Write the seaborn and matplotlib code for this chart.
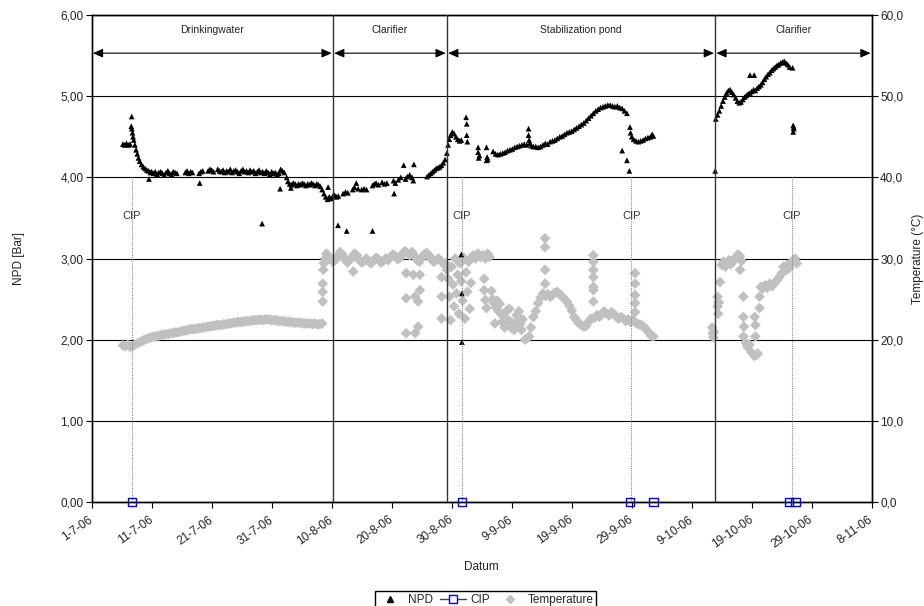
import pandas as pd
import seaborn as sns
import matplotlib.pyplot as plt
from matplotlib.lines import Line2D
from matplotlib.ticker import FuncFormatter, MultipleLocator

# days counted from 1-7-06
start = pd.Timestamp('2006-07-01')
end = pd.Timestamp('2006-11-08')

# NPD [Bar] as (day, value)
npd_drinking = [
    (5.2, 4.41), (5.5, 4.40), (5.8, 4.42), (6.1, 4.40), (6.4, 4.41), (6.6, 4.63), (6.67, 4.75),
    (6.7, 4.60), (6.8, 4.55), (6.9, 4.50), (7.0, 4.46), (7.2, 4.40), (7.4, 4.34), (7.6, 4.29),
    (7.8, 4.24), (8.0, 4.20), (8.3, 4.16), (8.6, 4.13), (8.9, 4.11), (9.2, 4.09), (9.5, 4.08),
    (9.55, 3.98), (9.8, 4.06), (10.0, 4.07), (10.3, 4.05), (10.6, 4.07), (10.9, 4.04), (11.2, 4.06),
    (11.5, 4.07), (11.8, 4.05), (12.1, 4.03), (12.4, 4.06), (12.7, 4.08), (13.0, 4.05), (13.3, 4.04),
    (13.6, 4.07), (13.9, 4.06), (14.2, 4.05), (15.6, 4.06), (15.9, 4.08), (16.2, 4.05), (16.5, 4.07),
    (16.8, 4.06), (17.9, 4.05), (18.0, 3.93), (18.2, 4.07), (18.5, 4.08), (19.4, 4.08), (19.7, 4.10),
    (20.0, 4.09), (20.3, 4.07), (21.0, 4.10), (21.3, 4.08), (21.6, 4.07), (21.9, 4.09), (22.2, 4.06),
    (22.5, 4.08), (22.8, 4.07), (23.1, 4.10), (23.4, 4.06), (23.7, 4.08), (24.0, 4.09), (24.3, 4.07),
    (24.6, 4.05), (24.9, 4.08), (25.2, 4.10), (25.5, 4.07), (25.8, 4.08), (26.1, 4.06), (26.4, 4.09),
    (26.7, 4.07), (27.0, 4.08), (27.3, 4.05), (27.6, 4.07), (27.9, 4.09), (28.2, 4.06), (28.4, 3.43),
    (28.5, 4.07), (28.8, 4.05), (29.1, 4.08), (29.4, 4.06), (29.7, 4.04), (30.0, 4.07), (30.3, 4.05),
    (30.6, 4.06), (30.9, 4.04), (31.2, 4.05), (31.4, 3.86), (31.5, 4.10), (31.8, 4.08), (32.1, 4.06),
    (32.5, 4.00), (32.7, 3.95), (33.0, 3.92), (33.2, 3.87), (33.3, 3.91), (33.6, 3.93), (33.9, 3.92),
    (34.2, 3.90), (34.5, 3.92), (34.8, 3.91), (35.1, 3.93), (35.4, 3.92), (35.7, 3.90), (36.0, 3.92),
    (36.3, 3.91), (36.6, 3.93), (36.9, 3.92), (37.2, 3.90), (37.5, 3.92), (37.8, 3.91), (38.1, 3.89),
    (38.4, 3.85), (38.7, 3.80), (39.0, 3.76), (39.3, 3.73), (39.4, 3.88), (39.6, 3.76), (39.9, 3.74),
    (40.2, 3.77),
]
npd_clarifier1 = [
    (40.5, 3.78), (40.8, 3.76), (41.05, 3.41), (41.1, 3.77), (41.9, 3.80), (42.3, 3.82), (42.5, 3.34),
    (42.7, 3.81), (43.5, 3.85), (43.8, 3.88), (44.1, 3.93), (44.4, 3.86), (45.0, 3.85), (45.4, 3.86),
    (45.8, 3.85), (46.8, 3.90), (46.8, 3.34), (47.1, 3.92), (47.4, 3.93), (47.8, 3.91), (48.4, 3.94),
    (48.8, 3.92), (49.2, 3.93), (50.3, 3.96), (50.4, 3.80), (50.6, 3.93), (51.1, 3.97), (51.5, 4.00),
    (52.0, 4.15), (52.3, 3.98), (52.6, 4.01), (53.0, 4.03), (53.4, 4.00), (53.6, 3.96), (53.7, 4.16),
    (55.9, 4.01), (56.2, 4.03), (56.5, 4.05), (56.8, 4.07), (57.1, 4.09), (57.4, 4.11), (57.7, 4.12),
    (58.0, 4.13), (58.3, 4.15), (58.6, 4.18), (58.9, 4.22),
]
npd_pond = [
    (59.2, 4.30), (59.4, 4.40), (59.6, 4.47), (59.8, 4.52), (60.1, 4.56), (60.4, 4.54), (60.7, 4.50),
    (61.0, 4.47), (61.3, 4.45), (61.6, 4.46), (61.6, 3.05), (61.7, 2.57), (61.7, 1.97), (62.4, 4.74),
    (62.5, 4.66), (62.5, 4.52), (62.6, 4.44), (64.4, 4.37), (64.4, 4.31), (64.5, 4.24), (64.6, 4.27),
    (65.8, 4.37), (65.8, 4.21), (65.9, 4.25), (66.0, 4.22), (66.9, 4.32), (67.3, 4.29), (67.7, 4.28),
    (68.1, 4.29), (68.5, 4.30), (68.9, 4.31), (69.3, 4.33), (69.7, 4.34), (70.1, 4.35), (70.5, 4.37),
    (70.9, 4.38), (71.3, 4.39), (71.7, 4.40), (72.1, 4.41), (72.5, 4.40), (72.8, 4.60), (72.8, 4.52),
    (72.9, 4.46), (73.0, 4.42), (73.3, 4.39), (73.6, 4.38), (74.0, 4.38), (74.4, 4.37), (74.8, 4.38),
    (75.2, 4.40), (75.6, 4.42), (76.0, 4.41), (76.4, 4.44), (76.8, 4.45), (77.2, 4.46), (77.6, 4.48),
    (78.0, 4.50), (78.4, 4.51), (78.8, 4.53), (79.2, 4.55), (79.6, 4.56), (80.0, 4.57), (80.4, 4.59),
    (80.8, 4.61), (81.2, 4.63), (81.6, 4.65), (82.0, 4.67), (82.4, 4.70), (82.8, 4.73), (83.2, 4.76),
    (83.6, 4.79), (84.0, 4.82), (84.4, 4.84), (84.8, 4.86), (85.2, 4.87), (85.6, 4.88), (86.0, 4.89),
    (86.4, 4.89), (86.8, 4.88), (87.2, 4.87), (87.6, 4.88), (88.0, 4.86), (88.4, 4.85), (88.4, 4.33),
    (88.8, 4.82), (89.2, 4.79), (89.2, 4.21), (89.6, 4.08), (89.7, 4.62), (89.8, 4.55), (90.0, 4.50),
    (90.3, 4.47), (90.7, 4.45), (91.1, 4.44), (91.5, 4.45), (91.9, 4.46), (92.3, 4.48), (92.7, 4.49),
    (93.1, 4.50), (93.4, 4.53), (93.6, 4.51),
]
npd_clarifier2 = [
    (103.9, 4.08), (104.0, 4.72), (104.3, 4.77), (104.6, 4.82), (104.9, 4.88), (105.2, 4.94),
    (105.5, 4.99), (105.8, 5.04), (106.1, 5.07), (106.4, 5.08), (106.7, 5.05), (107.0, 5.02),
    (107.3, 4.98), (107.6, 4.94), (107.9, 4.92), (108.2, 4.93), (108.5, 4.96), (108.8, 4.99),
    (109.1, 5.01), (109.4, 5.03), (109.7, 5.04), (109.7, 5.26), (110.0, 5.06), (110.3, 5.08),
    (110.4, 5.26), (110.6, 5.07), (110.9, 5.10), (111.2, 5.12), (111.5, 5.14), (111.8, 5.17),
    (112.1, 5.21), (112.4, 5.24), (112.7, 5.27), (113.0, 5.29), (113.3, 5.32), (113.6, 5.34),
    (113.9, 5.36), (114.2, 5.38), (114.5, 5.39), (114.8, 5.41), (115.1, 5.42), (115.4, 5.43),
    (115.7, 5.41), (116.0, 5.39), (116.3, 5.36), (116.8, 5.35), (116.9, 4.64), (117.0, 4.60),
    (116.9, 4.56), (117.0, 4.62),
]

# Temperature (°C) as (day, value)
temp_drinking = [
    (5.2, 19.3), (5.6, 19.2), (6.0, 19.4), (6.4, 19.1), (6.8, 19.2), (7.2, 19.4), (7.6, 19.5),
    (8.0, 19.7), (8.4, 19.8), (8.8, 20.0), (9.2, 20.1), (9.6, 20.2), (10.0, 20.3), (10.4, 20.4),
    (10.8, 20.4), (11.2, 20.5), (11.6, 20.6), (12.0, 20.6), (12.4, 20.7), (12.8, 20.7), (13.2, 20.8),
    (13.6, 20.8), (14.0, 20.9), (14.4, 20.9), (14.8, 21.0), (15.2, 21.1), (15.6, 21.1), (16.0, 21.2),
    (16.4, 21.3), (16.8, 21.3), (17.2, 21.3), (17.6, 21.4), (18.0, 21.4), (18.4, 21.5), (18.8, 21.5),
    (19.2, 21.6), (19.6, 21.6), (20.0, 21.7), (20.4, 21.7), (20.8, 21.8), (21.2, 21.8), (21.6, 21.8),
    (22.0, 21.9), (22.4, 21.9), (22.8, 22.0), (23.2, 22.0), (23.6, 22.1), (24.0, 22.1), (24.4, 22.2),
    (24.8, 22.2), (25.2, 22.2), (25.6, 22.3), (26.0, 22.3), (26.4, 22.3), (26.8, 22.4), (27.2, 22.4),
    (27.6, 22.4), (28.0, 22.5), (28.4, 22.4), (28.8, 22.5), (29.2, 22.5), (29.6, 22.5), (30.0, 22.4),
    (30.4, 22.4), (30.8, 22.4), (31.2, 22.3), (31.6, 22.3), (32.0, 22.3), (32.4, 22.2), (32.8, 22.2),
    (33.2, 22.2), (33.6, 22.1), (34.0, 22.1), (34.4, 22.1), (34.8, 22.1), (35.2, 22.0), (35.6, 22.0),
    (36.0, 22.0), (36.4, 22.0), (36.8, 21.9), (37.2, 22.0), (37.6, 21.9), (38.0, 21.9), (38.4, 22.0),
    (38.5, 24.7), (38.5, 25.9), (38.5, 26.9), (38.6, 28.6), (38.7, 29.4), (38.9, 30.0), (39.1, 30.6),
]
temp_clarifier1 = [
    (39.4, 30.4), (39.8, 30.0), (40.2, 29.6), (40.6, 29.8), (41.0, 30.3), (41.4, 30.8), (41.8, 30.5),
    (42.2, 29.9), (42.6, 29.5), (43.0, 29.8), (43.4, 30.2), (43.6, 28.4), (43.8, 30.6), (44.2, 30.4),
    (44.6, 29.8), (45.0, 29.5), (45.4, 29.7), (45.8, 30.0), (46.2, 29.6), (46.6, 29.4), (47.0, 29.8),
    (47.4, 30.1), (47.8, 29.9), (48.2, 29.5), (48.6, 29.7), (49.0, 30.0), (49.4, 29.8), (49.8, 30.2),
    (50.2, 30.5), (50.6, 30.3), (51.0, 29.9), (51.4, 30.1), (51.8, 30.6), (52.2, 30.9), (52.4, 28.2),
    (52.4, 25.1), (52.4, 20.8), (52.6, 30.7), (53.0, 30.4), (53.4, 30.8), (53.6, 28.0), (53.8, 30.3),
    (53.9, 25.3), (53.9, 20.8), (54.2, 29.8), (54.4, 24.7), (54.4, 21.6), (54.6, 29.6), (54.7, 28.0),
    (54.7, 26.1), (55.0, 30.1), (55.4, 30.5), (55.8, 30.7), (56.2, 30.4), (56.6, 29.9), (57.0, 29.6),
    (57.4, 29.8), (57.8, 30.0), (58.2, 29.7), (58.3, 27.7), (58.3, 25.3), (58.3, 22.6), (58.6, 29.4),
]
temp_pond = [
    (59.0, 29.4), (59.2, 28.6), (59.4, 27.5), (59.6, 25.3), (59.8, 22.4), (60.0, 29.0), (60.2, 26.8),
    (60.4, 24.1), (60.6, 30.0), (60.8, 25.7), (61.0, 28.0), (61.2, 23.2), (61.4, 29.4), (61.6, 27.2),
    (61.8, 24.8), (62.0, 30.1), (62.2, 22.6), (62.4, 28.3), (62.6, 25.9), (62.8, 29.6), (63.0, 23.8),
    (63.2, 27.0), (63.4, 30.2), (63.6, 30.4), (64.0, 30.0), (64.4, 30.6), (64.8, 30.2), (65.2, 30.4),
    (65.4, 27.5), (65.4, 26.1), (65.6, 30.0), (65.6, 24.9), (65.8, 23.9), (66.0, 30.6), (66.3, 30.2),
    (66.6, 26.0), (66.8, 25.0), (67.0, 24.5), (67.2, 22.0), (67.4, 23.9), (67.6, 24.8), (67.8, 23.5),
    (68.0, 24.4), (68.2, 23.2), (68.4, 22.2), (68.6, 22.9), (68.8, 21.5), (69.0, 22.6), (69.2, 23.6),
    (69.4, 22.4), (69.6, 23.8), (69.8, 22.2), (70.0, 21.4), (70.2, 22.0), (70.4, 21.2), (70.6, 21.8),
    (70.8, 23.0), (71.0, 22.3), (71.2, 23.5), (71.4, 21.9), (71.6, 21.2), (71.8, 22.5), (72.2, 20.0),
    (72.6, 20.2), (72.9, 20.4), (73.2, 21.5), (73.6, 22.8), (74.0, 23.5), (74.4, 24.5), (74.8, 25.2),
    (75.2, 25.7), (75.55, 32.5), (75.55, 31.4), (75.55, 28.6), (75.55, 26.9), (75.6, 25.4),
    (76.0, 25.6), (76.4, 25.3), (76.8, 25.5), (77.2, 25.8), (77.6, 25.9), (78.0, 25.6), (78.4, 25.3),
    (78.8, 25.0), (79.2, 24.7), (79.6, 24.2), (80.0, 23.6), (80.4, 22.8), (80.8, 22.4), (81.2, 22.0),
    (81.6, 21.8), (82.0, 21.6), (82.4, 21.7), (82.8, 22.2), (83.2, 22.6), (83.6, 30.4), (83.6, 29.6),
    (83.6, 28.6), (83.6, 27.7), (83.6, 26.5), (83.6, 26.1), (83.6, 24.7), (83.8, 22.7), (84.2, 23.0),
    (84.6, 22.8), (85.0, 23.2), (85.4, 23.5), (85.8, 23.2), (86.2, 23.0), (86.6, 23.4), (87.0, 23.2),
    (87.4, 22.8), (87.8, 22.6), (88.2, 22.8), (88.6, 22.6), (89.0, 22.3), (89.4, 22.5), (89.8, 22.2),
    (90.2, 22.4), (90.55, 28.2), (90.55, 26.9), (90.55, 25.5), (90.55, 24.5), (90.55, 23.4),
    (90.8, 22.0), (91.2, 21.9), (91.6, 21.8), (92.0, 21.6), (92.4, 21.3), (92.8, 20.9), (93.2, 20.5),
    (93.6, 20.4),
]
temp_clarifier2 = [
    (103.4, 21.5), (103.5, 20.8), (103.6, 20.3), (103.7, 21.0), (104.3, 25.3), (104.3, 24.1),
    (104.4, 23.2), (104.5, 24.6), (104.7, 27.1), (105.0, 29.2), (105.3, 29.6), (105.6, 29.0),
    (105.9, 29.4), (106.2, 29.8), (106.5, 29.3), (106.8, 29.6), (107.1, 29.8), (107.4, 30.2),
    (107.7, 30.5), (108.0, 30.3), (108.05, 28.6), (108.3, 29.7), (108.6, 25.3), (108.6, 22.8),
    (108.7, 21.6), (108.6, 20.4), (109.0, 19.6), (109.3, 19.1), (109.6, 19.4), (110.0, 18.4),
    (110.4, 18.0), (110.8, 18.1), (111.0, 18.3), (110.5, 22.8), (110.6, 21.8), (110.6, 20.4),
    (111.3, 25.3), (111.3, 23.9), (111.5, 26.5), (111.8, 26.3), (112.2, 26.7), (112.6, 26.4),
    (113.0, 26.9), (113.4, 26.6), (113.8, 27.0), (114.2, 27.3), (114.6, 27.7), (115.0, 28.2),
    (115.3, 29.0), (115.6, 28.5), (115.9, 29.2), (116.2, 28.8), (116.5, 29.5), (116.9, 29.6),
    (117.2, 30.0), (117.5, 29.4),
]

# CIP events
cip_days = [6.67, 61.67, 89.67, 93.6, 116.2, 117.3]
cip_line_days = [6.67, 61.67, 89.9, 116.7]

# process sections
section_names = ['Drinkingwater', 'Clarifier', 'Stabilization pond', 'Clarifier']
section_edges = [0, 40.2, 59.2, 103.9, 130]


def to_df(points, name):
    df = pd.DataFrame(points, columns=['day', name])
    df['Datum'] = start + pd.to_timedelta(df['day'], unit='D')
    return df


def day(d):
    return start + pd.to_timedelta(d, unit='D')


npd = to_df(npd_drinking + npd_clarifier1 + npd_pond + npd_clarifier2, 'NPD')
temp = to_df(temp_drinking + temp_clarifier1 + temp_pond + temp_clarifier2, 'Temperature')
cip = pd.DataFrame({'Datum': day(pd.Series(cip_days)), 'CIP': 0.0})

sns.set_theme(style='white')
plt.rcParams['font.family'] = ['Liberation Sans', 'DejaVu Sans']

fig = plt.figure(figsize=(9.24, 6.06), dpi=100)
ax = fig.add_axes([0.0992, 0.1716, 0.8443, 0.8036])
ax2 = ax.twinx()
ax.set_zorder(ax2.get_zorder() + 1)
ax.patch.set_visible(False)

# gridlines under the gray temperature points
ax2.grid(axis='y', color='black', lw=0.8)
ax2.set_axisbelow(True)

sns.scatterplot(data=temp, x='Datum', y='Temperature', ax=ax2, marker='D', s=30,
                color='#c0c0c0', edgecolor='none', legend=False)
sns.scatterplot(data=npd, x='Datum', y='NPD', ax=ax, marker='^', s=17,
                color='black', edgecolor='none', legend=False)
sns.scatterplot(data=cip, x='Datum', y='CIP', ax=ax, marker='s', s=36, color='blue',
                facecolor='none', edgecolor='blue', linewidth=1, legend=False,
                clip_on=False, zorder=6)
ax.collections[-1].set_facecolor('none')

# sections
for i, name in enumerate(section_names):
    a, b = section_edges[i], section_edges[i + 1]
    ax.annotate('', xy=(day(a + 0.2), 5.53), xytext=(day(b - 0.2), 5.53),
                arrowprops=dict(arrowstyle='<|-|>,head_length=0.5,head_width=0.22',
                                color='black', lw=0.8, shrinkA=0, shrinkB=0))
    ax.text(day((a + b) / 2), 5.81, name, ha='center', va='center', fontsize=7.5, color='#222222')
for e in section_edges[1:-1]:
    ax.axvline(day(e), color='#333333', lw=1, zorder=3)

# CIP markers
ax.vlines(day(pd.Series(cip_line_days)), 0, 4.0, colors='#888888', lw=0.8,
          linestyles=(0, (1, 1)), zorder=2)
for d in cip_line_days:
    ax.text(day(d), 3.53, 'CIP', ha='center', va='center', fontsize=8, color='#333333')

# axes
ticks = pd.date_range(start, end, freq='10D')
ax.set_xlim(start, end)
ax.set_xticks(ticks)
ax.set_xticklabels([f'{t.day}-{t.month}-{t:%y}' for t in ticks], rotation=35,
                   ha='right', rotation_mode='anchor', va='center')
ax.set_ylim(0, 6)
ax.yaxis.set_major_locator(MultipleLocator(1))
ax.yaxis.set_major_formatter(FuncFormatter(lambda v, _: f'{v:.2f}'.replace('.', ',')))
ax2.set_ylim(0, 60)
ax2.yaxis.set_major_locator(MultipleLocator(10))
ax2.yaxis.set_major_formatter(FuncFormatter(lambda v, _: f'{v:.1f}'.replace('.', ',')))

ax.tick_params(axis='x', bottom=True, direction='out', length=4, width=0.8, color='black',
               labelsize=8.5, pad=8, labelcolor='#222222')
ax.tick_params(axis='y', left=True, direction='out', length=4, width=0.8, color='black',
               labelsize=8.5, pad=2, labelcolor='#222222')
ax2.tick_params(axis='y', right=True, direction='out', length=4, width=0.8, color='black',
                labelsize=8.5, pad=2, labelcolor='#222222')
for a in (ax, ax2):
    for s in a.spines.values():
        s.set_color('black')
        s.set_linewidth(1)

ax.set_xlabel('Datum', fontsize=8.5, color='#222222')
ax.xaxis.set_label_coords(0.5, -0.122)
ax.set_ylabel('NPD [Bar]', fontsize=8.5, color='#222222')
ax.yaxis.set_label_coords(-0.086, 0.5)
ax2.set_ylabel('Temperature (°C)', fontsize=8.5, color='#222222')
ax2.yaxis.set_label_coords(1.052, 0.5)

handles = [
    Line2D([], [], marker='^', ls='none', color='black', markersize=4),
    Line2D([], [], marker='s', color='#404040', lw=1, markerfacecolor='white',
           markeredgecolor='blue', markersize=6),
    Line2D([], [], marker='D', ls='none', color='#c0c0c0', markersize=4),
]
fig.legend(handles, ['NPD', 'CIP', 'Temperature'], loc='upper center',
           bbox_to_anchor=(0.5255, 0.034), ncol=3, fontsize=8.5, frameon=True,
           fancybox=False, edgecolor='black', framealpha=1, handlelength=2.2,
           handletextpad=0.4, columnspacing=0.6, borderpad=0.2)

fig.savefig('out.png', dpi=100)
